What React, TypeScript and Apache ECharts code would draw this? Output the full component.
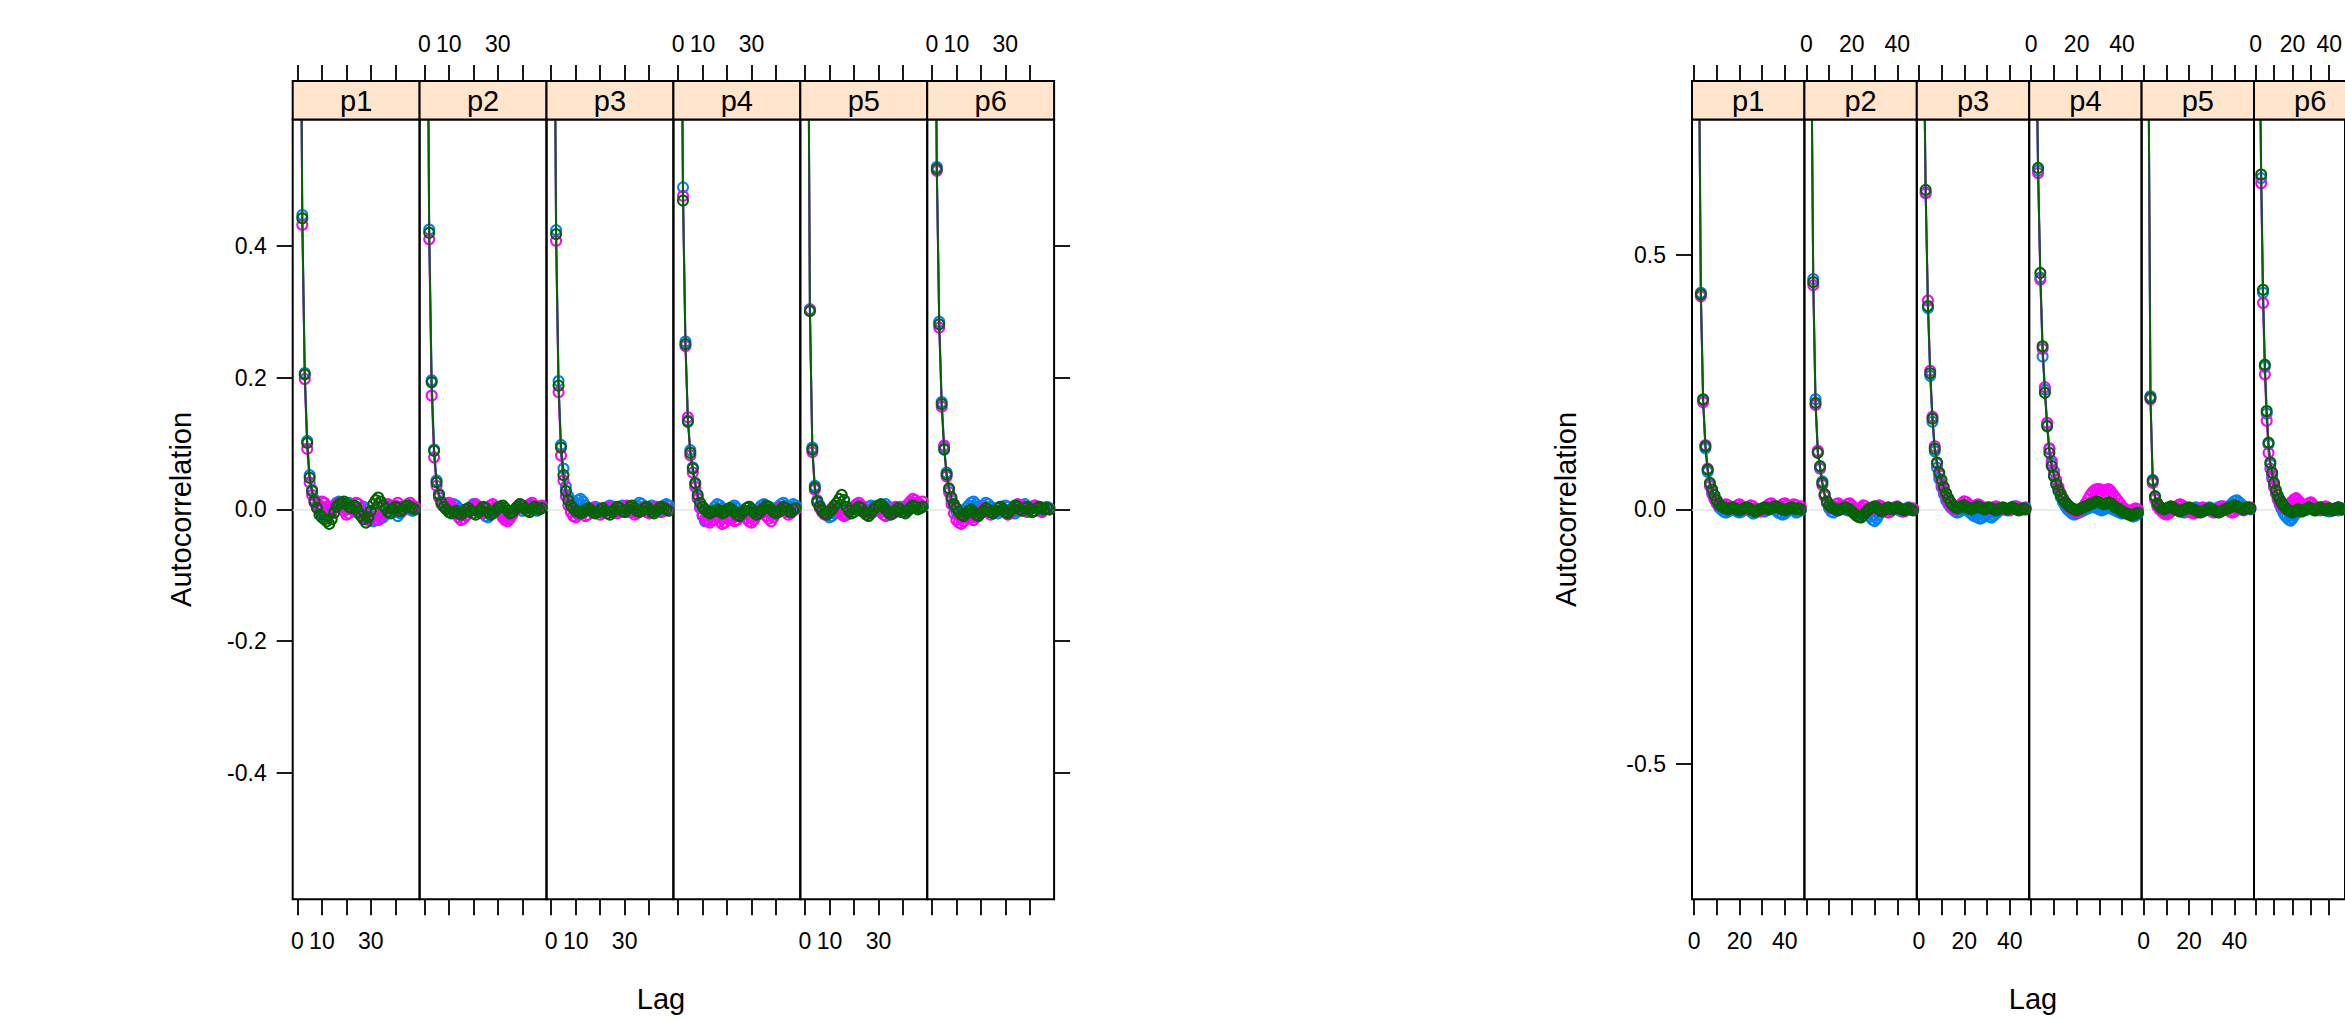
import React, { useEffect, useRef } from "react";
import * as echarts from "echarts";

const W = 2345;
const H = 1019;

// ---------- categories / ticks ----------
const panels = ["p1", "p2", "p3", "p4", "p5", "p6"];
const chains = ["chain1", "chain2", "chain3"];
const xTickValues = [0, 10, 20, 30, 40];
const leftXLabelValues = [0, 10, 30];
const rightXLabelValues = [0, 20, 40];
const leftYTicks = [-0.4, -0.2, 0, 0.2, 0.4];
const rightYTicks = [-0.5, 0, 0.5];

// first plotted lag position on the x axis (lag 0 sits here)
const leftLagStart = 1;
const rightLagStart = 2;

// ---------- LEFT plot: autocorrelation values, lag 0.. ----------
const L1_blue = [1, .447, .207, .104, .052, .030, .015, .006, -.002, -.006, -.004, -.010, -.008, .000, .006, .010, .012, .008, .004, .006, .010, .008, .002, -.004, -.006, -.002, .004, .000, -.008, -.014, -.018, -.016, -.010, -.014, -.012, -.006, -.002, .004, .006, -.004, -.010, -.006, .000, .004, .002, .000, -.002, .000];
const L1_mag = [1, .432, .198, .092, .041, .022, .010, .004, .006, .012, .010, .004, .000, -.004, .002, .008, .010, .004, -.002, -.008, -.006, .000, .006, .010, .008, .002, -.008, -.014, -.016, -.012, -.004, -.010, -.016, -.012, -.004, .002, .008, .006, .002, .006, .010, .004, -.002, .004, .008, .010, .006, .004];
const L1_grn = [1, .442, .205, .101, .048, .028, .012, .002, -.008, -.012, -.015, -.018, -.022, -.015, -.005, .004, .008, .010, .012, .008, .004, .002, .006, .004, -.004, -.010, -.015, -.020, -.012, -.002, .008, .014, .018, .012, .006, .002, -.004, -.006, .000, .004, .002, -.003, .000, .004, .006, .003, .002, .000];

const L2_blue = [1, .425, .196, .091, .044, .024, .012, .006, .002, .000, .004, .008, .006, .002, -.002, -.006, -.004, .000, .004, .008, .006, .002, -.002, -.006, -.010, -.012, -.008, -.004, .000, .004, .002, -.004, -.010, -.014, -.012, -.006, .000, .004, .002, -.002, .000, .004, .006, .004, .000, -.002, .002, .004];
const L2_mag = [1, .410, .173, .079, .036, .018, .008, .004, .008, .010, .006, .002, -.006, -.012, -.016, -.014, -.010, -.004, .002, .006, .008, .004, -.002, -.006, -.004, .002, .006, .008, .004, .000, -.006, -.012, -.016, -.018, -.014, -.008, -.002, .004, .008, .006, .002, .004, .008, .010, .006, .002, .004, .006];
const L2_grn = [1, .420, .193, .089, .041, .022, .010, .004, .000, -.004, -.006, -.004, -.002, -.006, -.008, -.004, .000, .002, -.002, -.006, -.008, -.004, .000, .004, .002, -.004, -.008, -.006, -.002, .002, .004, .006, .002, -.002, -.006, -.004, .000, .004, .008, .006, .002, -.002, -.004, .000, .004, .002, .000, .002];

const L3_blue = [1, .424, .195, .098, .062, .035, .020, .012, .008, .010, .014, .016, .012, .006, .002, .000, .002, .004, .002, -.002, -.004, .000, .004, .006, .004, .000, -.002, .002, .006, .004, .000, -.004, -.002, .002, .006, .010, .008, .004, .000, .002, .006, .004, .000, -.002, .002, .006, .008, .006];
const L3_mag = [1, .408, .178, .082, .044, .020, .006, -.004, -.010, -.012, -.008, -.004, -.006, -.010, -.008, -.002, .002, .000, -.004, -.008, -.006, -.002, .002, .004, .000, -.004, -.006, -.004, .000, .004, .006, .002, -.004, -.008, -.006, -.002, .002, .000, -.004, -.006, -.002, .002, .004, .000, -.004, -.002, .002, .000];
const L3_grn = [1, .418, .188, .094, .052, .028, .014, .006, .002, -.002, -.004, -.006, -.004, .000, .002, .000, -.004, -.006, -.004, .000, .002, -.002, -.006, -.008, -.004, .000, .004, .002, -.002, -.004, .000, .004, .006, .002, -.002, -.004, -.002, .002, .004, .000, -.004, -.006, -.002, .002, .004, .002, .000, -.002];

const L4_blue = [1, .489, .255, .135, .090, .064, .038, .018, .004, -.010, -.018, -.016, -.008, -.002, .004, .008, .006, .002, -.002, -.004, .000, .004, .006, .002, -.004, -.006, -.002, .002, .004, .000, -.004, -.002, .002, .006, .008, .004, .000, -.004, -.002, .002, .004, .008, .010, .006, .002, .004, .008, .006];
const L4_mag = [1, .476, .248, .140, .082, .056, .034, .016, .002, -.008, -.014, -.018, -.020, -.016, -.010, -.012, -.018, -.022, -.020, -.014, -.010, -.014, -.018, -.016, -.010, -.004, -.008, -.014, -.018, -.020, -.016, -.010, -.004, .000, -.004, -.010, -.014, -.018, -.012, -.006, .000, .004, .000, -.004, -.008, -.006, -.002, .000];
const L4_grn = [1, .469, .251, .133, .086, .062, .040, .022, .010, .004, .000, -.004, -.006, -.004, -.002, .000, -.002, -.006, -.004, .000, .002, .000, -.004, -.008, -.010, -.006, -.002, .002, .004, .000, -.004, -.008, -.006, -.002, .002, .006, .004, .000, -.004, -.006, -.004, .000, .004, .002, -.002, -.004, .000, .002];

const L5_blue = [1, .304, .094, .036, .014, .006, .000, -.004, -.008, -.012, -.010, -.006, -.002, .000, -.002, -.006, -.008, -.004, .000, .004, .006, .002, -.002, -.004, .000, .004, .006, .004, .000, -.002, .002, .006, .008, .004, .000, -.004, -.002, .002, .004, .000, -.002, .002, .006, .010, .008, .004, .002, .004];
const L5_mag = [1, .303, .087, .030, .010, .002, -.004, -.008, -.006, -.002, .002, .004, .000, -.004, -.008, -.010, -.008, -.004, .000, .004, .008, .010, .006, .000, -.004, -.006, -.002, .002, .004, .000, -.004, -.008, -.010, -.006, -.002, .002, .004, .000, -.004, -.002, .004, .008, .012, .016, .014, .010, .008, .012];
const L5_grn = [1, .301, .091, .033, .012, .004, -.002, -.006, -.008, -.004, .000, .006, .010, .016, .022, .014, .004, -.002, -.006, -.004, .000, .004, .002, -.004, -.008, -.010, -.006, .000, .004, .006, .008, .004, .000, -.004, -.008, -.006, -.002, .002, .000, -.004, -.006, -.002, .002, .006, .004, .000, .002, .004];

const L6_blue = [1, .520, .285, .163, .094, .056, .030, .014, .004, -.004, -.008, -.006, -.002, .002, .006, .010, .012, .008, .004, .002, .006, .010, .008, .004, .000, -.004, -.006, -.002, .002, .006, .004, .000, -.004, -.006, -.002, .002, .006, .008, .004, .000, .002, .006, .004, .000, -.002, .002, .004, .002];
const L6_mag = [1, .514, .276, .156, .097, .050, .026, .008, -.006, -.016, -.020, -.022, -.018, -.012, -.008, -.012, -.016, -.012, -.006, -.002, .002, .000, -.004, -.008, -.006, -.002, .002, .004, .000, -.004, -.008, -.006, .000, .004, .008, .006, .002, -.002, -.004, .000, .004, .006, .002, -.002, -.004, .000, .002, .000];
const L6_grn = [1, .517, .281, .160, .091, .053, .032, .018, .008, .002, -.004, -.008, -.010, -.006, -.002, .000, -.004, -.008, -.010, -.006, -.002, .002, .000, -.004, -.006, -.002, .002, .004, .000, -.004, -.006, -.002, .002, .006, .004, .000, -.002, .002, .004, .000, -.004, -.002, .002, .004, .002, .000, .002, .000];

// ---------- RIGHT plot: autocorrelation values, lag 0.. ----------
const R1_blue = [1, .425, .213, .120, .074, .048, .034, .022, .012, .004, .000, -.004, -.006, -.004, -.002, .000, -.002, -.004, -.006, -.004, .000, .002, .000, -.004, -.008, -.006, -.002, .000, -.002, -.004, -.002, .002, .004, .002, -.002, -.006, -.008, -.010, -.008, -.004, .000, .002, -.002, -.006, -.004, -.002];
const R1_mag = [1, .418, .210, .126, .080, .046, .030, .020, .012, .008, .006, .008, .010, .008, .004, .002, .004, .008, .010, .006, .002, .000, .004, .008, .006, .002, -.002, -.004, -.002, .002, .006, .010, .012, .008, .004, .002, .006, .010, .012, .008, .004, .006, .010, .008, .004, .006];
const R1_grn = [1, .422, .216, .124, .078, .052, .039, .028, .018, .010, .006, .004, .002, .000, .002, .004, .002, .000, -.002, .000, .002, .004, .002, .000, -.002, -.004, -.002, .000, .002, .004, .002, .000, .002, .004, .006, .004, .002, .000, -.002, .000, .002, .004, .002, .000, .002, .000];

const R2_blue = [1, .452, .216, .112, .080, .055, .028, .012, .002, -.004, -.006, -.002, .002, .004, .002, .000, -.002, .000, .002, .000, -.004, -.006, -.008, -.006, -.004, -.008, -.014, -.020, -.023, -.018, -.010, -.004, .000, .002, .000, -.002, .000, .004, .002, -.002, -.004, -.002, .002, .004, .002, .000];
const R2_mag = [1, .440, .205, .115, .082, .048, .026, .014, .006, .002, .006, .010, .012, .008, .004, .006, .010, .012, .008, .002, -.004, -.002, .004, .008, .006, .002, -.002, .000, .004, .006, .008, .006, .002, -.002, -.006, -.004, .000, .004, .006, .002, -.002, -.004, -.002, .002, .000, .002];
const R2_grn = [1, .446, .209, .111, .085, .052, .030, .016, .008, .004, .002, .000, -.002, .000, .002, .004, .002, .000, -.004, -.008, -.012, -.015, -.016, -.012, -.006, -.002, .002, .004, .006, .004, .000, -.004, -.002, .002, .004, .002, .000, .002, .004, .002, .000, -.002, .000, .002, .000, -.002];

const R3_blue = [1, .622, .395, .262, .172, .114, .082, .060, .044, .030, .018, .010, .004, .000, -.004, -.006, -.004, .000, .002, .000, -.004, -.008, -.012, -.014, -.016, -.018, -.016, -.012, -.010, -.014, -.016, -.012, -.008, -.004, .000, .002, .000, -.002, .000, .004, .006, .004, .002, .000, .002, .004];
const R3_mag = [1, .620, .410, .272, .182, .124, .090, .068, .050, .036, .024, .014, .006, .002, .000, .004, .008, .012, .016, .014, .010, .006, .004, .008, .010, .008, .004, .002, .004, .002, .000, .004, .006, .004, .002, .000, .002, .000, -.002, .000, .004, .006, .004, .002, .000, .002];
const R3_grn = [1, .627, .399, .267, .178, .119, .092, .072, .058, .044, .032, .022, .014, .008, .004, .002, .004, .006, .008, .004, .002, .000, .002, .004, .006, .004, .002, .000, .002, .004, .002, .000, -.002, .000, .002, .004, .002, .000, .002, .004, .002, .000, -.002, .000, .002, .000];

const R4_blue = [1, .665, .455, .300, .235, .165, .118, .090, .068, .050, .036, .024, .014, .006, .000, -.004, -.008, -.010, -.008, -.006, -.004, -.002, .000, .002, .004, .006, .004, .002, .000, -.002, .000, .002, .004, .002, .000, -.002, -.004, -.006, -.008, -.006, -.004, -.006, -.010, -.014, -.012, -.008];
const R4_mag = [1, .660, .451, .315, .240, .170, .120, .095, .075, .058, .044, .032, .022, .014, .008, .004, .000, -.004, -.006, -.004, .000, .006, .012, .020, .028, .034, .038, .040, .040, .038, .036, .038, .040, .036, .030, .024, .018, .012, .006, .002, -.002, -.004, -.002, .000, .002, .000];
const R4_grn = [1, .670, .464, .320, .229, .163, .111, .085, .065, .050, .038, .028, .020, .014, .009, .005, .002, .000, -.002, .000, .002, .004, .006, .008, .010, .012, .014, .016, .014, .012, .010, .012, .014, .012, .008, .004, .002, .000, -.004, -.006, -.008, -.010, -.012, -.010, -.008, -.006];

const R5_blue = [1, .222, .058, .024, .010, .004, .000, -.004, -.006, -.004, -.002, .000, .002, .000, -.002, -.004, -.006, -.004, -.002, .000, .002, .004, .002, .000, -.002, .000, .002, .004, .002, .000, .002, .004, .006, .004, .002, .004, .008, .012, .016, .018, .014, .010, .006, .004, .002, .000];
const R5_mag = [1, .216, .052, .020, .006, .000, -.004, -.008, -.010, -.008, -.004, .000, .004, .008, .010, .008, .004, .000, -.004, -.006, -.008, -.006, -.002, .002, .004, .002, .000, -.002, -.004, -.006, -.004, .000, .004, .006, .004, .000, -.004, -.006, -.004, .000, .002, .000, -.002, .000, .002, .004];
const R5_grn = [1, .219, .056, .026, .012, .006, .002, .000, .002, .004, .006, .004, .000, -.002, -.004, -.002, .000, .002, .004, .002, .000, -.002, -.004, -.006, -.004, -.002, .000, .002, .000, -.002, -.004, -.006, -.004, -.002, .000, .002, .004, .006, .008, .006, .004, .002, .000, .002, .004, .002];

const R6_blue = [1, .650, .425, .280, .188, .128, .088, .066, .046, .032, .020, .010, .002, -.006, -.012, -.016, -.020, -.022, -.018, -.012, -.008, -.004, .000, .002, .000, -.002, .000, .002, .004, .002, .000, -.002, .000, .002, .004, .002, .000, -.002, -.004, -.002, .000, .002, .000, -.002, .000, .002];
const R6_mag = [1, .640, .405, .265, .174, .111, .080, .060, .044, .032, .022, .014, .008, .004, .002, .004, .008, .012, .016, .020, .022, .018, .014, .010, .006, .004, .008, .012, .014, .010, .006, .002, .000, -.002, .000, .004, .006, .004, .002, .000, -.002, .000, .002, .004, .002, .000];
const R6_grn = [1, .657, .431, .284, .193, .131, .092, .072, .052, .038, .028, .020, .014, .008, .004, .000, -.002, -.004, -.006, -.004, -.002, .000, -.002, -.004, -.002, .000, .002, .004, .002, .000, -.002, .000, .002, .004, .002, .000, -.002, .000, .002, .000, -.002, .000, .002, .004, .002, .000];

const leftPanels = [
  [L1_blue, L1_mag, L1_grn],
  [L2_blue, L2_mag, L2_grn],
  [L3_blue, L3_mag, L3_grn],
  [L4_blue, L4_mag, L4_grn],
  [L5_blue, L5_mag, L5_grn],
  [L6_blue, L6_mag, L6_grn],
];
const rightPanels = [
  [R1_blue, R1_mag, R1_grn],
  [R2_blue, R2_mag, R2_grn],
  [R3_blue, R3_mag, R3_grn],
  [R4_blue, R4_mag, R4_grn],
  [R5_blue, R5_mag, R5_grn],
  [R6_blue, R6_mag, R6_grn],
];

// ---------- styles / layout ----------
const chainColors = ["#0080ff", "#ff00ff", "#006400"];
const FONT = "'Liberation Sans', Arial, sans-serif";
const TICK_FS = 23;
const TITLE_FS = 29;
const STRIP_FS = 29;
const PANEL_TOP = 119.5;
const PANEL_H = 779.8;
const STRIP_H = 38.5;
const TICK_LEN = 16;

const plots = [
  {
    data: leftPanels, left: 292.7, pw: 126.9, xMin: -1.92, xMax: 49.9, lagStart: leftLagStart,
    yMin: -0.592, yMax: 0.592, yTicks: leftYTicks, xLabels: leftXLabelValues, titleX: 181, lagX: 661,
  },
  {
    data: rightPanels, left: 1692, pw: 112.4, xMin: -0.9, xMax: 48.6, lagStart: rightLagStart,
    yMin: -0.765, yMax: 0.765, yTicks: rightYTicks, xLabels: rightXLabelValues, titleX: 1566, lagX: 2033,
  },
];

function buildOption() {
  const grid: any[] = [];
  const xAxis: any[] = [];
  const yAxis: any[] = [];
  const series: any[] = [];
  const graphic: any[] = [];
  const tickStyle = { color: "#000", width: 1.8 };
  const labelBase = { color: "#000", fontSize: TICK_FS, fontFamily: FONT };

  plots.forEach((p, pi) => {
    panels.forEach((name, i) => {
      const g = pi * 6 + i;
      const gl = p.left + i * p.pw;
      grid.push({
        left: gl, top: PANEL_TOP, width: p.pw, height: PANEL_H,
        show: true, borderColor: "#000", borderWidth: 2, backgroundColor: "transparent",
      });
      // bottom x axis
      xAxis.push({
        gridIndex: g, type: "value", min: p.xMin, max: p.xMax, position: "bottom",
        axisLine: { show: false, onZero: false }, splitLine: { show: false },
        axisTick: { show: true, length: TICK_LEN, customValues: xTickValues, lineStyle: tickStyle },
        axisLabel: {
          show: i % 2 === 0, customValues: p.xLabels, margin: 30, ...labelBase,
          formatter: (v: number) => String(v),
        },
      });
      // top x axis (above the strip)
      xAxis.push({
        gridIndex: g, type: "value", min: p.xMin, max: p.xMax, position: "top", offset: STRIP_H,
        axisLine: { show: false, onZero: false }, splitLine: { show: false },
        axisTick: { show: true, length: TICK_LEN, customValues: xTickValues, lineStyle: tickStyle },
        axisLabel: {
          show: i % 2 === 1, customValues: p.xLabels, margin: 26, ...labelBase,
          formatter: (v: number) => String(v),
        },
      });
      yAxis.push({
        gridIndex: g, type: "value", min: p.yMin, max: p.yMax,
        position: i === 5 ? "right" : "left",
        axisLine: { show: false, onZero: false }, splitLine: { show: false },
        axisTick: { show: i === 0 || i === 5, length: TICK_LEN, customValues: p.yTicks, lineStyle: tickStyle },
        axisLabel: {
          show: i === 0, customValues: p.yTicks, margin: 26, ...labelBase,
          formatter: (v: number) => v.toFixed(1),
        },
      });
      p.data[i].forEach((vals: number[], c: number) => {
        const s: any = {
          type: "line", name: chains[c], xAxisIndex: 2 * g, yAxisIndex: g,
          data: vals.map((v, k) => [p.lagStart + k, v]),
          symbol: "circle", symbolSize: 10, showSymbol: true, clip: true, silent: true,
          lineStyle: { color: chainColors[c], width: 2 },
          itemStyle: { color: "transparent", borderColor: chainColors[c], borderWidth: 2 },
          z: 3 + c,
        };
        if (c === 0) {
          s.markLine = {
            silent: true, symbol: ["none", "none"], label: { show: false },
            lineStyle: { color: "#e6e6e6", width: 1.5, type: "solid" },
            data: [{ yAxis: 0 }], z: 1,
          };
        }
        series.push(s);
      });
      // strip
      graphic.push({
        type: "rect", x: gl, y: PANEL_TOP - STRIP_H,
        shape: { x: 0, y: 0, width: p.pw, height: STRIP_H },
        style: { fill: "#ffe5cc", stroke: "#000", lineWidth: 2 }, z: 10,
      });
      graphic.push({
        type: "text", x: gl + p.pw / 2, y: PANEL_TOP - STRIP_H / 2 + 1,
        style: {
          text: name, fill: "#000", font: `${STRIP_FS}px ${FONT}`,
          textAlign: "center", textVerticalAlign: "middle",
        }, z: 11,
      });
    });
    graphic.push({
      type: "text", x: p.titleX, y: PANEL_TOP + PANEL_H / 2, rotation: Math.PI / 2,
      style: {
        text: "Autocorrelation", fill: "#000", font: `${TITLE_FS}px ${FONT}`,
        textAlign: "center", textVerticalAlign: "middle",
      },
    });
    graphic.push({
      type: "text", x: p.lagX, y: 999,
      style: {
        text: "Lag", fill: "#000", font: `${TITLE_FS}px ${FONT}`,
        textAlign: "center", textVerticalAlign: "middle",
      },
    });
  });

  return {
    animation: false,
    backgroundColor: "#ffffff",
    grid, xAxis, yAxis, series, graphic,
  };
}

export default function App() {
  const ref = useRef<HTMLDivElement>(null);
  useEffect(() => {
    document.body.style.margin = "0";
    const chart = echarts.init(ref.current as HTMLDivElement, null, { renderer: "svg", width: W, height: H });
    chart.setOption(buildOption() as any);
    return () => chart.dispose();
  }, []);
  return (
    <div
      ref={ref}
      style={{ position: "absolute", left: 0, top: 0, width: W, height: H, background: "#fff" }}
    />
  );
}
